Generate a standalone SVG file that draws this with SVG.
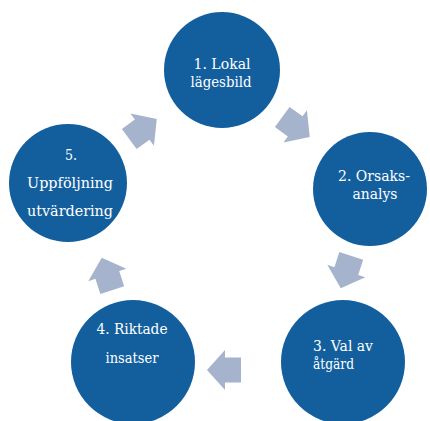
<svg xmlns="http://www.w3.org/2000/svg" width="430" height="421" viewBox="0 0 430 421">
<defs>
<style>
.node{fill:#135f9e}
.lbl{font-family:'DejaVu Serif','Liberation Serif',serif;font-size:15.5px;fill:#ffffff}
.arr{fill:#a5b3cd}
</style>
<polygon id="blk" points="-17,-12.5 -1,-12.5 -1,-20 17,0 -1,20 -1,12.5 -17,12.5"/>
</defs>
<rect width="430" height="421" fill="#ffffff"/>
<g id="connectors" class="arr">
<use href="#blk" transform="translate(143,129) rotate(-36)"/>
<use href="#blk" transform="translate(296,127) rotate(36)"/>
<use href="#blk" transform="translate(346,272) rotate(108)"/>
<use href="#blk" transform="translate(224,370) rotate(180)"/>
<use href="#blk" transform="translate(107,274) rotate(-108)"/>
</g>
<g id="n1"><circle class="node" cx="222" cy="70" r="58"/>
<text class="lbl" x="222" y="69" text-anchor="middle" textLength="57" lengthAdjust="spacingAndGlyphs">1. Lokal</text>
<text class="lbl" x="221" y="86.5" text-anchor="middle" textLength="61" lengthAdjust="spacingAndGlyphs">lägesbild</text></g>
<g id="n2"><circle class="node" cx="370" cy="189" r="57"/>
<text class="lbl" x="374" y="181" text-anchor="middle" textLength="72" lengthAdjust="spacingAndGlyphs">2. Orsaks-</text>
<text class="lbl" x="375" y="198.5" text-anchor="middle" textLength="45" lengthAdjust="spacingAndGlyphs">analys</text></g>
<g id="n3"><circle class="node" cx="343" cy="362" r="62"/>
<text class="lbl" x="313" y="351" textLength="60" lengthAdjust="spacingAndGlyphs">3. Val av</text>
<text class="lbl" x="313" y="368.5" textLength="41" lengthAdjust="spacingAndGlyphs">åtgärd</text></g>
<g id="n4"><circle class="node" cx="133" cy="362" r="62"/>
<text class="lbl" x="132" y="334" text-anchor="middle" textLength="71" lengthAdjust="spacingAndGlyphs">4. Riktade</text>
<text class="lbl" x="132" y="363" text-anchor="middle" textLength="53" lengthAdjust="spacingAndGlyphs">insatser</text></g>
<g id="n5"><circle class="node" cx="68" cy="183" r="59"/>
<text class="lbl" x="71" y="160" text-anchor="middle" textLength="12" lengthAdjust="spacingAndGlyphs">5.</text>
<text class="lbl" x="70" y="188" text-anchor="middle" textLength="86" lengthAdjust="spacingAndGlyphs">Uppföljning</text>
<text class="lbl" x="70" y="216" text-anchor="middle" textLength="86" lengthAdjust="spacingAndGlyphs">utvärdering</text></g>
</svg>
